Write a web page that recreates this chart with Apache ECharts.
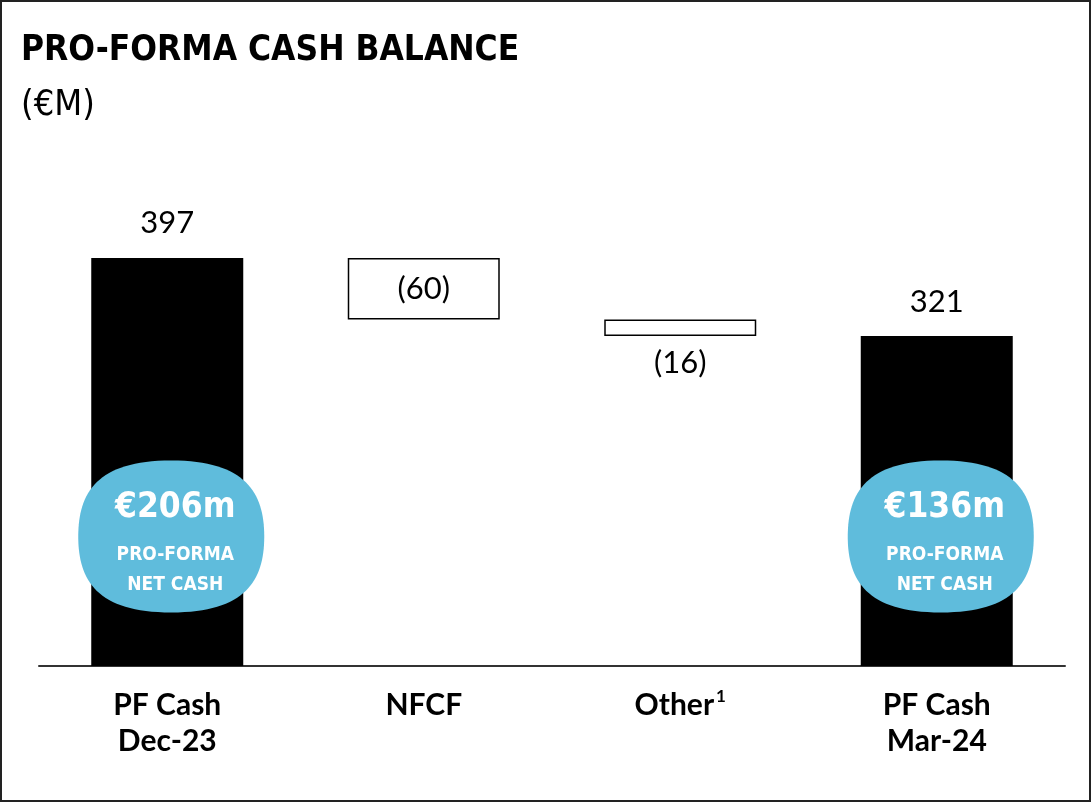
<!DOCTYPE html>
<html>
<head>
<meta charset="utf-8">
<script src="https://cdn.jsdelivr.net/npm/echarts@6/dist/echarts.min.js"></script>
<style>
  html, body { margin: 0; padding: 0; background: #fff; }
  #chart { width: 1091px; height: 802px; box-sizing: border-box; border: 2px solid #222; }
</style>
</head>
<body>
<div id="chart"></div>
<script>
// data
var categories = ['PF Cash\nDec-23', 'NFCF', 'Other', 'PF Cash\nMar-24'];
var startBalance = 397;
var changes = [-60, -16];
var endBalance = 321;
var netCashLabels = ['€206m', '€136m'];
var netCashY = [126, 126];

var condFont = "'DejaVu Sans Condensed', 'Roboto Condensed', 'Liberation Sans Narrow', sans-serif";

document.addEventListener('DOMContentLoaded', function () {
  init_chart();
});

function init_chart() {
  var chartDom = document.getElementById('chart');
  var myChart = echarts.init(chartDom);

  // build the invisible base and visible bar heights of the waterfall
  var base = [0];
  var shown = [startBalance];
  var running = startBalance;
  changes.forEach(function (c) {
    running = running + c;
    base.push(running);
    shown.push(-c);
  });
  base.push(0);
  shown.push(endBalance);

  var barData = shown.map(function (v, i) {
    var isTotal = (i === 0 || i === shown.length - 1);
    var item = { value: v };
    if (isTotal) {
      item.itemStyle = { color: '#000' };
      item.label = { position: 'top', distance: 19, formatter: String(v) };
    } else {
      item.itemStyle = { color: '#fff', borderColor: '#000', borderWidth: 1.5 };
      item.label = {
        position: i === 1 ? 'inside' : 'bottom',
        distance: 11,
        formatter: '(' + v + ')'
      };
    }
    return item;
  });

  var badgeData = [
    { value: [0, netCashY[0]], name: netCashLabels[0] },
    { value: [categories.length - 1, netCashY[1]], name: netCashLabels[1] }
  ];

  var option = {
    animation: false,
    title: {
      text: 'PRO-FORMA CASH BALANCE',
      subtext: '(€M)',
      left: 14,
      top: 26,
      itemGap: 20,
      textStyle: {
        fontFamily: condFont,
        fontWeight: 'bold',
        fontSize: 35,
        color: '#000'
      },
      subtextStyle: {
        fontFamily: condFont,
        fontSize: 36,
        color: '#000'
      }
    },
    grid: { left: 37, right: 24, top: 150, bottom: 134 },
    xAxis: {
      type: 'category',
      data: categories,
      axisLine: { lineStyle: { color: '#333', width: 2 } },
      axisTick: { show: false },
      axisLabel: {
        margin: 21,
        formatter: function (v) {
          if (v === 'Other') return '{a|Other}{s|1}';
          return v.split('\n').map(function (p) { return '{a|' + p + '}'; }).join('\n');
        },
        rich: {
          a: { fontFamily: 'Lato', fontWeight: 'bold', fontSize: 30, lineHeight: 36, color: '#000' },
          s: { fontFamily: 'Lato', fontWeight: 'bold', fontSize: 17, color: '#000', padding: [0, 0, 16, 2] }
        }
      }
    },
    yAxis: {
      type: 'value',
      min: 0,
      max: 500,
      show: false,
      splitLine: { show: false }
    },
    series: [
      {
        type: 'bar',
        stack: 'w',
        data: base,
        itemStyle: { color: 'transparent' },
        silent: true
      },
      {
        type: 'bar',
        stack: 'w',
        barWidth: 152,
        data: barData,
        label: {
          show: true,
          fontFamily: 'Lato',
          fontSize: 31,
          color: '#000'
        }
      },
      {
        type: 'scatter',
        data: badgeData,
        symbol: 'path://M100,0 C180,0 200,34 200,80 C200,126 180,160 100,160 C20,160 0,126 0,80 C0,34 20,0 100,0 Z',
        symbolSize: [186, 152],
        symbolOffset: [4, 0],
        itemStyle: { color: '#5fbcdc', opacity: 1 },
        z: 5,
        label: {
          show: true,
          position: 'inside',
          offset: [4, 1],
          formatter: function (p) {
            return '{big|' + p.name + '}\n{small|PRO-FORMA}\n{small|NET CASH}';
          },
          rich: {
            big: { fontFamily: condFont, fontWeight: 'bold', fontSize: 35, lineHeight: 66, color: '#fff' },
            small: { fontFamily: condFont, fontWeight: 'bold', fontSize: 19, lineHeight: 30, color: '#fff' }
          }
        }
      }
    ]
  };

  myChart.setOption(option);
}
</script>
</body>
</html>
